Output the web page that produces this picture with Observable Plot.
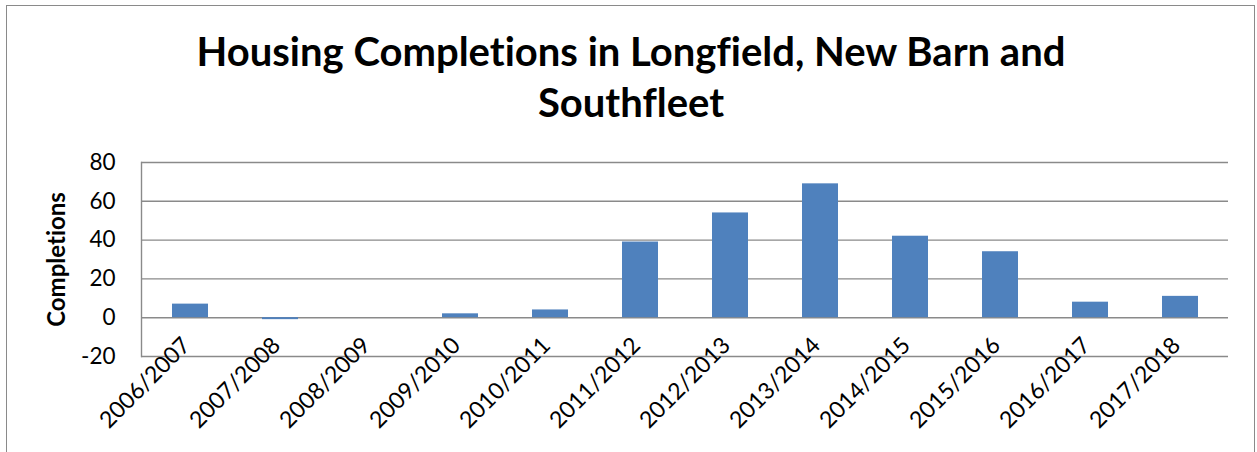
<!DOCTYPE html>
<html>
<head>
<meta charset="utf-8">
<script src="https://cdn.jsdelivr.net/npm/d3@7"></script>
<script src="https://cdn.jsdelivr.net/npm/@observablehq/plot@0.6"></script>
<style>
  html, body { margin: 0; padding: 0; background: #fff; }
  body { width: 1257px; height: 452px; position: relative; overflow: hidden; font-family: Lato, "Open Sans", sans-serif; font-variant-ligatures: none; }
  #frame { position: absolute; left: 6px; top: 5px; width: 1249px; height: 470px; border: 1.5px solid #8a8a8a; box-sizing: border-box; }
  #title { position: absolute; left: 6px; width: 1250px; top: 26px; text-align: center; font-weight: 700; font-size: 40px; line-height: 51px; color: #000; }
  #chart { position: absolute; left: 0; top: 130px; }
  #chart svg text { font-variant-ligatures: none; }
</style>
</head>
<body>
<div id="frame"></div>
<div id="title">Housing Completions in Longfield, New Barn and<br>Southfleet</div>
<div id="chart"></div>
<script>
const periods = ["2006/2007","2007/2008","2008/2009","2009/2010","2010/2011","2011/2012","2012/2013","2013/2014","2014/2015","2015/2016","2016/2017","2017/2018"];
const completions = [7, -1, 0, 2, 4, 39, 54, 69, 42, 34, 8, 11];
const yTicks = [-20, 0, 20, 40, 60, 80];
const yLabel = "Completions";

const data = periods.map((p, i) => ({period: p, value: completions[i]}));
const gridColor = "#8a8a8a";

const chart = Plot.plot({
  width: 1257,
  height: 322,
  marginTop: 32,
  marginBottom: 96,
  marginLeft: 141,
  marginRight: 29,
  style: {fontFamily: "Lato, 'Open Sans', sans-serif", fontSize: "22px", color: "#000", background: "transparent"},
  x: {domain: periods, paddingInner: 0.6, paddingOuter: 0.3},
  y: {domain: [-20, 80]},
  marks: [
    Plot.gridY(yTicks, {stroke: gridColor, strokeOpacity: 1, strokeWidth: 1.4}),
    Plot.frame({anchor: "left", stroke: gridColor, strokeWidth: 1.4}),
    Plot.barY(data, {x: "period", y: "value", fill: "#4F81BD"}),
    Plot.axisY(yTicks, {tickSize: 0, tickPadding: 26, label: null, fontSize: 22.5, tickFormat: d => String(d)}),
    Plot.axisX({tickSize: 0, tickRotate: -45, tickPadding: 0, dy: -15, dx: -4, label: null, fontSize: 23}),
    Plot.text([yLabel], {frameAnchor: "left", rotate: -90, dx: -84, textAnchor: "middle", fontWeight: "bold", fontSize: 24, fill: "#000"})
  ]
});
document.getElementById("chart").appendChild(chart);
</script>
</body>
</html>
